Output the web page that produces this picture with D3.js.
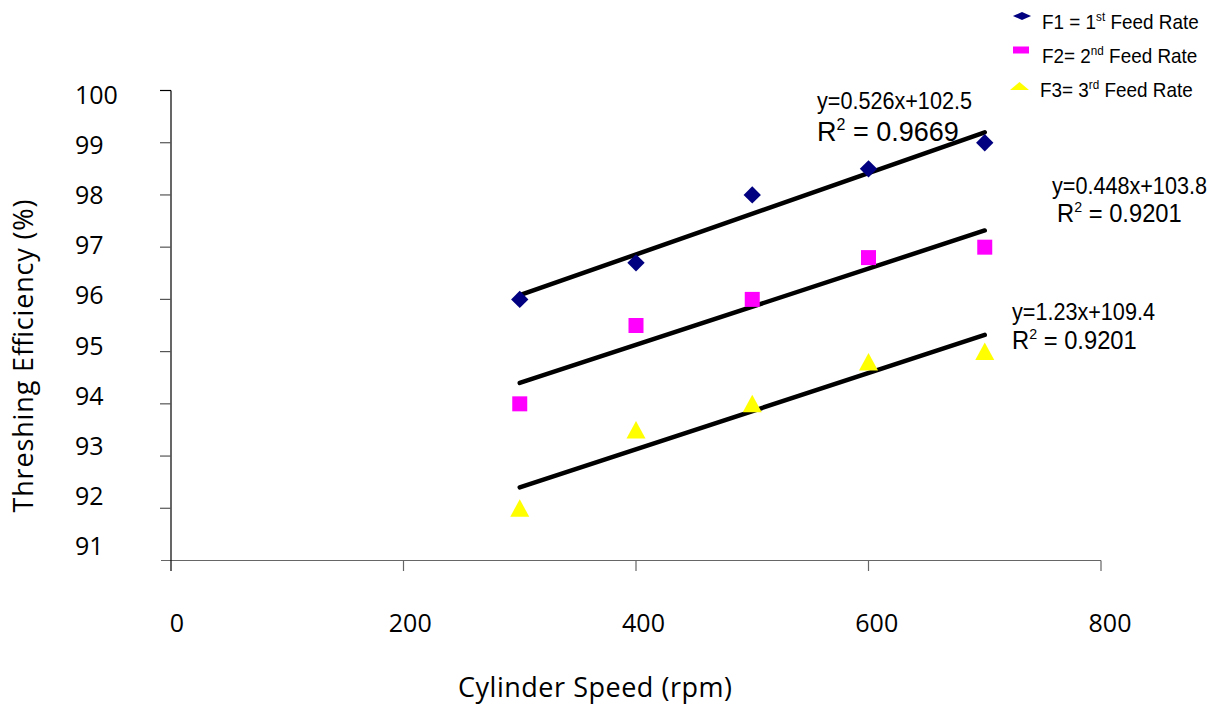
<!DOCTYPE html>
<html>
<head>
<meta charset="utf-8">
<script src="https://cdn.jsdelivr.net/npm/d3@7"></script>
<style>
  body { margin: 0; background: #fff; }
  svg { display: block; }
</style>
</head>
<body>
<svg width="1225" height="717"></svg>
<script>
// cylinder speeds (rpm)
const speeds = [300, 400, 500, 600, 700];
// threshing efficiency (%) per feed rate
const f1 = [96.0, 96.7, 98.0, 98.5, 99.0];
const f2 = [94.0, 95.5, 96.0, 96.8, 97.0];
const f3 = [92.0, 93.5, 94.0, 94.8, 95.0];

const xTicks = [0, 200, 400, 600, 800];
const yTicks = [91, 92, 93, 94, 95, 96, 97, 98, 99, 100];

const equations = ["y=0.526x+102.5", "y=0.448x+103.8", "y=1.23x+109.4"];
const r2Labels = ["0.9669", "0.9201", "0.9201"];
const legendNames = [
  ["F1 = 1", "st", " Feed Rate"],
  ["F2= 2", "nd", " Feed Rate"],
  ["F3= 3", "rd", " Feed Rate"]
];

const svg = d3.select("svg");

const x = d3.scaleLinear().domain([0, 800]).range([171, 1101]);
const y = d3.scaleLinear().domain([91, 100]).range([560.5, 90.5]);
// the labels sit on a slightly different spacing than the ticks in the original
const xLab = d3.scaleLinear().domain([0, 800]).range([177, 1110]);
const yLab = d3.scaleLinear().domain([91, 100]).range([546, 95]);

// axes
const axes = svg.append("g");
axes.append("line")
  .attr("x1", 161).attr("x2", x(800))
  .attr("y1", y(91)).attr("y2", y(91))
  .attr("stroke", "#666").attr("stroke-width", 1.2);
axes.selectAll(".xt")
  .data(xTicks)
  .enter()
  .append("line")
  .attr("x1", d => x(d)).attr("x2", d => x(d))
  .attr("y1", y(91)).attr("y2", y(91) + 10.5)
  .attr("stroke", d => d === 0 ? "#000" : "#666")
  .attr("stroke-width", 1.2);
axes.append("line")
  .attr("x1", x(0)).attr("x2", x(0))
  .attr("y1", y(100)).attr("y2", y(91))
  .attr("stroke", "#000").attr("stroke-width", 1.2);
axes.selectAll(".yt")
  .data(yTicks.filter(d => d > 91))
  .enter()
  .append("line")
  .attr("x1", x(0) - 11).attr("x2", x(0))
  .attr("y1", d => y(d)).attr("y2", d => y(d))
  .attr("stroke", d => d === 100 ? "#000" : "#555")
  .attr("stroke-width", 1.2);

axes.selectAll(".xl")
  .data(xTicks)
  .enter()
  .append("text")
  .attr("x", d => xLab(d))
  .attr("y", 632)
  .attr("text-anchor", "middle")
  .style("font-family", "'Open Sans', sans-serif")
  .style("font-size", "25px")
  .text(d => d);

axes.selectAll(".yl")
  .data(yTicks)
  .enter()
  .append("text")
  .attr("x", 75)
  .attr("y", d => yLab(d))
  .attr("dy", "0.36em")
  .style("font-family", "'Open Sans', sans-serif")
  .style("font-size", "25px")
  .text(d => d);

svg.append("text")
  .attr("x", 595)
  .attr("y", 697)
  .attr("text-anchor", "middle")
  .attr("textLength", 274)
  .style("font-family", "'Open Sans', sans-serif")
  .style("font-size", "27px")
  .text("Cylinder Speed (rpm)");

svg.append("text")
  .attr("transform", "translate(33,356) rotate(-90)")
  .attr("text-anchor", "middle")
  .attr("textLength", 313)
  .style("font-family", "'Open Sans', sans-serif")
  .style("font-size", "27px")
  .text("Threshing Efficiency (%)");

// trend lines (least squares over each series)
function fit(ys) {
  const mx = d3.mean(speeds), my = d3.mean(ys);
  const sxy = d3.sum(speeds, (s, i) => (s - mx) * (ys[i] - my));
  const sxx = d3.sum(speeds, s => (s - mx) * (s - mx));
  const b = sxy / sxx;
  return s => my + b * (s - mx);
}

const series = [f1, f2, f3];
const line = d3.line().x(d => x(d[0])).y(d => y(d[1]));

svg.append("g")
  .selectAll("path")
  .data(series)
  .enter()
  .append("path")
  .attr("d", ys => {
    const f = fit(ys);
    const ends = d3.extent(speeds);
    return line(ends.map(s => [s, f(s)]));
  })
  .attr("fill", "none")
  .attr("stroke", "#000")
  .attr("stroke-width", 4.5)
  .attr("stroke-linecap", "round");

// markers
const diamond = d3.symbol().type(d3.symbolSquare).size(150);
const square = d3.symbol().type(d3.symbolSquare).size(225);
const triPath = "M0,-9L9.5,8.5L-9.5,8.5Z";

svg.append("g")
  .selectAll("path")
  .data(f1)
  .enter()
  .append("path")
  .attr("d", diamond)
  .attr("transform", (d, i) => "translate(" + x(speeds[i]) + "," + y(d) + ") rotate(45)")
  .attr("fill", "#000080");

svg.append("g")
  .selectAll("path")
  .data(f2)
  .enter()
  .append("path")
  .attr("d", square)
  .attr("transform", (d, i) => "translate(" + x(speeds[i]) + "," + y(d) + ")")
  .attr("fill", "#ff00ff");

svg.append("g")
  .selectAll("path")
  .data(f3)
  .enter()
  .append("path")
  .attr("d", triPath)
  .attr("transform", (d, i) => "translate(" + x(speeds[i]) + "," + y(d) + ")")
  .attr("fill", "#ffff00");

// equations (narrow, tall face in the original -> squeeze horizontally)
const eqPos = [[817, 109], [1052, 194], [1012, 320]];
const r2Pos = [[817, 141, 27, 1], [1057, 222, 25, 0.95], [1012, 349, 25, 0.95]];

svg.append("g")
  .selectAll("text")
  .data(equations)
  .enter()
  .append("text")
  .attr("transform", (d, i) => "translate(" + eqPos[i][0] + "," + eqPos[i][1] + ") scale(0.9,1)")
  .style("font-family", "'Liberation Sans', Arial, sans-serif")
  .style("font-size", "24px")
  .text(d => d);

const r2 = svg.append("g")
  .selectAll("text")
  .data(r2Labels)
  .enter()
  .append("text")
  .attr("transform", (d, i) => "translate(" + r2Pos[i][0] + "," + r2Pos[i][1] + ") scale(" + r2Pos[i][3] + ",1)")
  .style("font-family", "'Liberation Sans', Arial, sans-serif")
  .style("font-size", (d, i) => r2Pos[i][2] + "px");
r2.append("tspan").text("R");
r2.append("tspan")
  .attr("dy", (d, i) => -0.42 * r2Pos[i][2])
  .style("font-size", (d, i) => Math.round(r2Pos[i][2] * 0.6) + "px")
  .text("2");
r2.append("tspan")
  .attr("dy", (d, i) => 0.42 * r2Pos[i][2])
  .text(d => " = " + d);

// legend
const legendY = [16, 50, 86];
const legendText = [29, 63, 97];
const legendTx = [1042, 1042, 1040];
const legend = svg.append("g");

legend.append("path")
  .attr("d", d3.symbol().type(d3.symbolSquare).size(64))
  .attr("transform", "translate(1022," + legendY[0] + ") scale(1.6,0.72) rotate(45)")
  .attr("fill", "#000080");
legend.append("rect")
  .attr("x", 1013).attr("y", legendY[1] - 3.5)
  .attr("width", 16).attr("height", 7)
  .attr("fill", "#ff00ff");
legend.append("path")
  .attr("d", "M0,-4L9.5,4L-9.5,4Z")
  .attr("transform", "translate(1019.5," + legendY[2] + ")")
  .attr("fill", "#ffff00");

const lt = legend.selectAll("text")
  .data(legendNames)
  .enter()
  .append("text")
  .attr("transform", (d, i) => "translate(" + legendTx[i] + "," + legendText[i] + ") scale(0.9,1)")
  .style("font-family", "'Liberation Sans', Arial, sans-serif")
  .style("font-size", "21px");
lt.append("tspan").text(d => d[0]);
lt.append("tspan").attr("dy", -8).style("font-size", "13px").text(d => d[1]);
lt.append("tspan").attr("dy", 8).text(d => d[2]);
</script>
</body>
</html>
